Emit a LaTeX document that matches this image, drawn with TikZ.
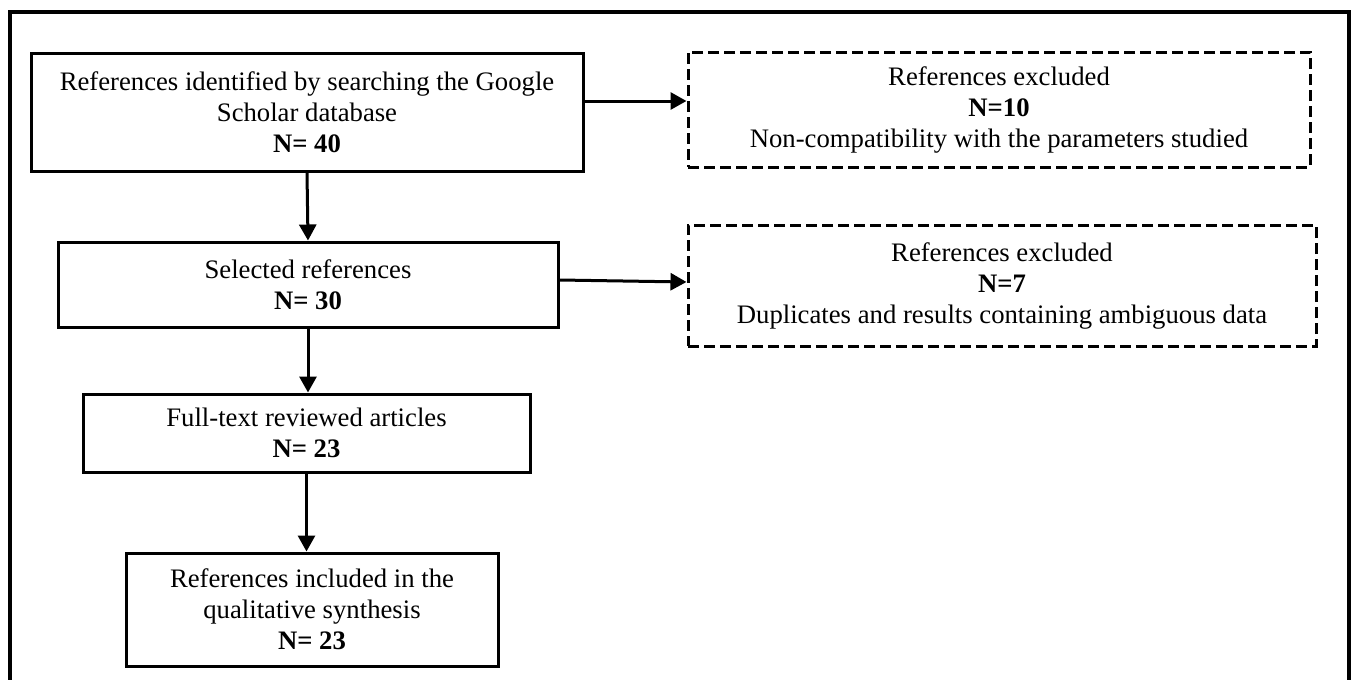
\documentclass[tikz,border=0pt]{standalone}
\usepackage{fontspec}
\setmainfont{Liberation Serif}
\usepackage{tikz}
\usetikzlibrary{arrows,arrows.meta}
\tikzset{>={Triangle[length=16pt,width=17pt]}}
\tikzstyle{solid box}=[draw,line width=3pt,inner sep=0pt,align=center,font=\fontsize{26.7}{31}\selectfont]
\tikzstyle{dash box}=[solid box,dash pattern=on 11pt off 5pt]
\tikzstyle{flow}=[->,line width=3pt]

\begin{document}
\begin{tikzpicture}[x=1pt,y=-1pt]
  \useasboundingbox (0,0) rectangle (1352,680);

  % outer frame, open at the bottom
  \draw[line width=3.5pt] (10,680) -- (10,12) -- (1349,12) -- (1349,680);

  % main column
  \node[solid box,minimum width=552pt,minimum height=118pt] (ident) at (307,112)
    {References identified by searching the Google\\Scholar database\\\textbf{N= 40}};
  \node[solid box,minimum width=500pt,minimum height=85pt] (select) at (308,284.5)
    {Selected references\\\textbf{N= 30}};
  \node[solid box,minimum width=447pt,minimum height=78pt] (fulltext) at (306.5,433)
    {Full-text reviewed articles\\\textbf{N= 23}};
  \node[solid box,minimum width=372pt,minimum height=113pt] (incl) at (312,609.5)
    {References included in the\\qualitative synthesis\\\textbf{N= 23}};

  % excluded
  \node[dash box,minimum width=622pt,minimum height=115pt] (excl1) at (999,109.5)
    {References excluded\\\textbf{N=10}\\Non-compatibility with the parameters studied};
  \node[dash box,minimum width=628pt,minimum height=121pt] (excl2) at (1002,285.5)
    {References excluded\\\textbf{N=7}\\Duplicates and results containing ambiguous data};

  \draw[flow] (ident.south) -- (select.north);
  \draw[flow] (select.south) -- (select.south |- fulltext.north);
  \draw[flow] (fulltext.south) -- (fulltext.south |- incl.north);
  \draw[flow] ([yshift=11pt]ident.east) -- ([yshift=8.5pt]excl1.west);
  \draw[flow] ([yshift=4.5pt]select.east) -- ([yshift=3.5pt]excl2.west);

\end{tikzpicture}
\end{document}
